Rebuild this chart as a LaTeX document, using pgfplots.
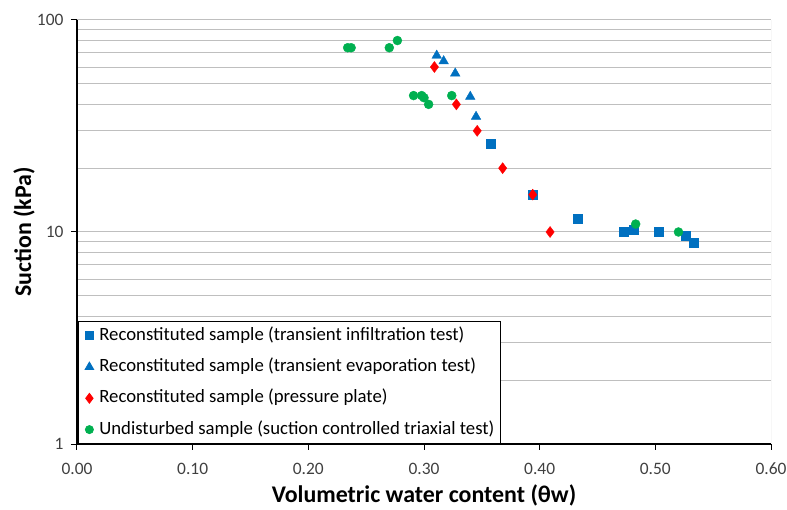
\documentclass[border=0pt]{standalone}
\usepackage{pgfplots}
\pgfplotsset{compat=1.18}
\usepackage{fontspec}
\setmainfont{Carlito}
\definecolor{cblue}{HTML}{0070C0}
\definecolor{cred}{HTML}{FF0000}
\definecolor{cgreen}{HTML}{00B050}
\definecolor{cgrid}{HTML}{BFBFBF}
\definecolor{ctick}{HTML}{404040}
\begin{document}
\begin{tikzpicture}
\begin{axis}[
  at={(0,0)}, anchor=south west,
  scale only axis, width=694bp, height=424bp,
  xmin=0, xmax=0.6, ymode=log, ymin=1, ymax=100,
  axis x line*=bottom, axis y line*=left,
  axis line style={black, line width=1.3bp, -},
  xtick={0,0.1,0.2,0.3,0.4,0.5,0.6},
  xticklabels={0.00,0.10,0.20,0.30,0.40,0.50,0.60},
  ytick={1,10,100}, yticklabels={1,10,100},
  tick align=outside, major tick length=6bp, minor tick length=0pt,
  tick style={black, line width=1bp},
  ymajorgrids, yminorgrids,
  major grid style={cgrid, line width=1bp},
  minor grid style={cgrid, line width=1bp},
  ticklabel style={font=\fontsize{17.5}{20}\selectfont, text=ctick},
  xticklabel style={anchor=center, yshift=-19bp},
  yticklabel style={anchor=east, xshift=-4bp},
  xlabel={\textbf{Volumetric water content (θw)}},
  ylabel={\textbf{Suction (kPa)}},
  label style={font=\fontsize{24}{27}\selectfont},
  xlabel style={at={(axis description cs:0.5,-0.1203)}, anchor=center},
  ylabel style={at={(axis description cs:-0.0764,0.5)}, anchor=center},
  legend style={at={(rel axis cs:0,0)}, anchor=south west, xshift=1bp,
    draw=black, line width=0.8bp, fill=white,
    font=\fontsize{18.8}{21}\selectfont,
    nodes={text height=13.5bp, text depth=4.5bp, inner ysep=2bp},
    row sep=9.3bp, inner xsep=4bp, inner ysep=3bp},
  legend cell align=left,
  legend image code/.code={\draw[#1, mark options={scale=0.9}] plot coordinates {(0bp,0bp)}; \path[draw=none, fill=none] (-7bp,0bp) -- (8bp,0bp);},
]
\draw[cgrid, line width=1bp] (rel axis cs:1,0) -- (rel axis cs:1,1);
\addplot[only marks, mark=square*, mark size=4.5bp, color=cblue] coordinates {
 (0.358,26) (0.394,15) (0.433,11.6) (0.473,10.0) (0.481,10.2) (0.503,10.0) (0.526,9.6) (0.533,8.9)};
\addlegendentry{Reconstituted sample (transient infiltration test)}
\addplot[only marks, mark=triangle*, mark size=5.5bp, color=cblue] coordinates {
 (0.311,68) (0.317,64) (0.327,56) (0.340,43.5) (0.345,35)};
\addlegendentry{Reconstituted sample (transient evaporation test)}
\addplot[only marks, mark=diamond*, mark size=5.5bp, color=cred] coordinates {
 (0.309,60) (0.328,40) (0.346,30) (0.368,20) (0.394,15) (0.409,10)};
\addlegendentry{Reconstituted sample (pressure plate)}
\addplot[only marks, mark=*, mark size=4.5bp, color=cgreen] coordinates {
 (0.234,74) (0.237,74) (0.270,74) (0.277,80) (0.291,44) (0.298,44) (0.300,43) (0.304,40) (0.324,44) (0.483,10.9) (0.520,10)};
\addlegendentry{Undisturbed sample (suction controlled triaxial test)}
\end{axis}
\pgfresetboundingbox
\path (-77bp,-66bp) rectangle (710bp,444bp);
\end{tikzpicture}
\end{document}
